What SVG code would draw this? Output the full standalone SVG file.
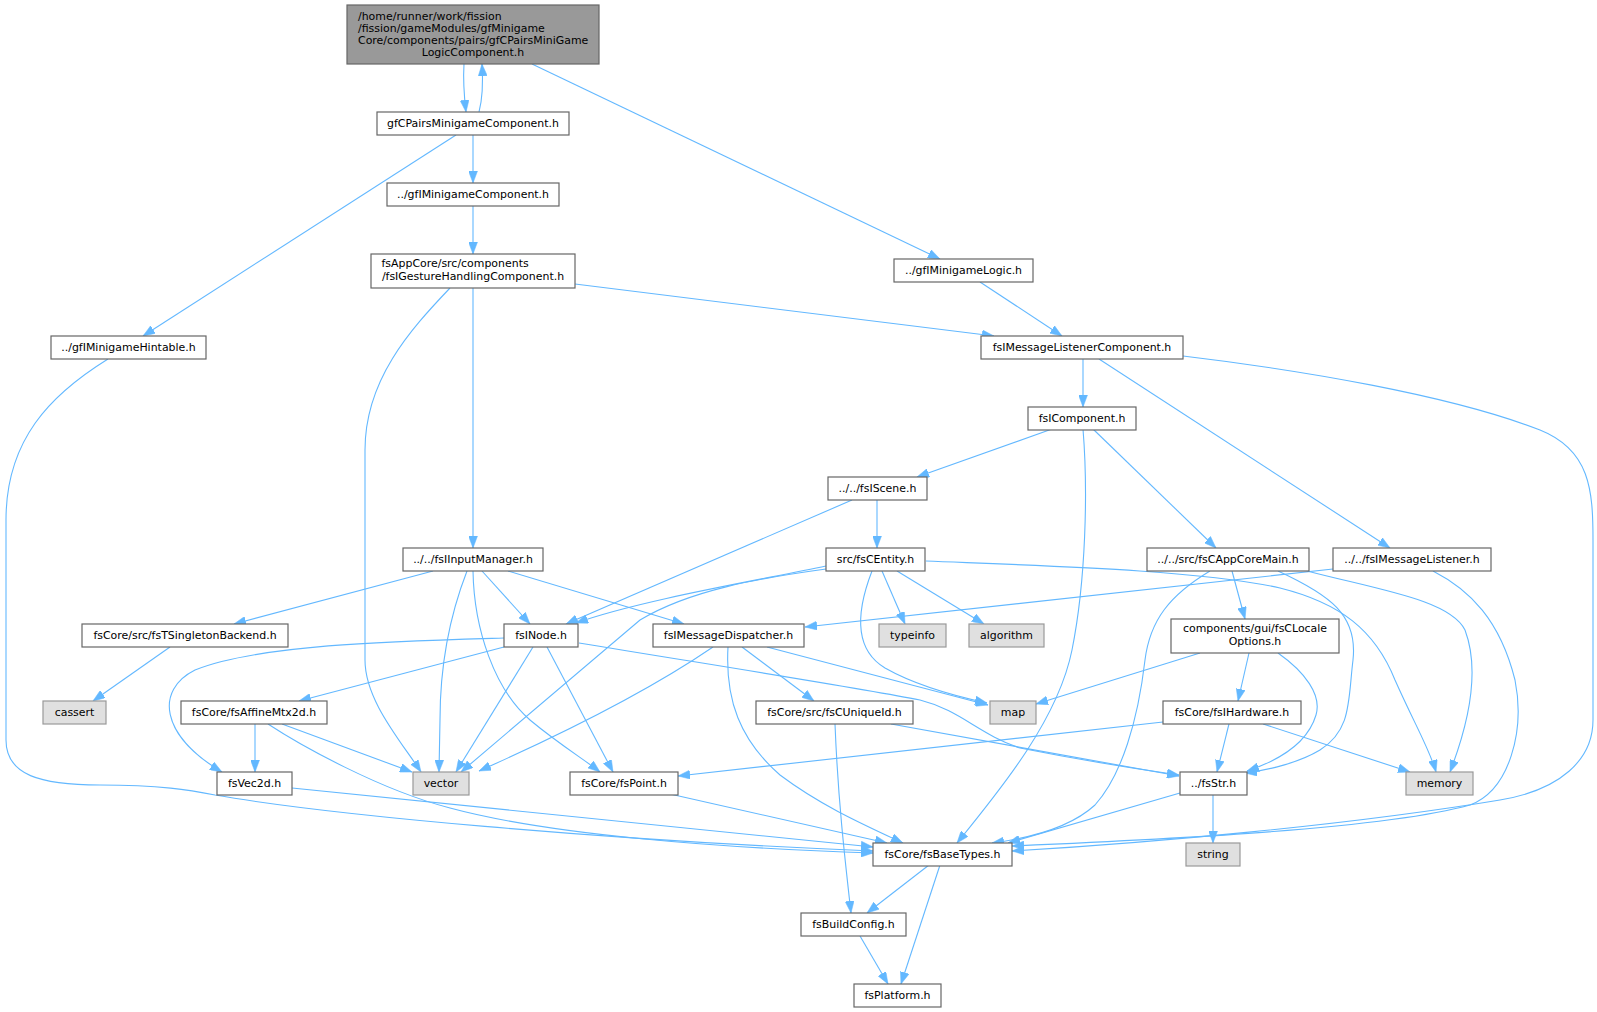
<svg xmlns="http://www.w3.org/2000/svg" width="1597" height="1012" viewBox="0 0 1597 1012">
<defs>
<style>
.nd rect{fill:#ffffff;stroke:#666666;stroke-width:1.2}
.gr rect{fill:#e0e0e0;stroke:#999999;stroke-width:1.2}
.mn rect{fill:#999999;stroke:#666666;stroke-width:1.2}
text{font-family:"DejaVu Sans","Liberation Sans",sans-serif;font-size:10.95px;fill:#000000;text-anchor:middle}
text.l{text-anchor:start}
#edges path{fill:none;stroke:#63b8ff;stroke-width:1.1;marker-end:url(#ah)}
</style>
<marker id="ah" markerUnits="userSpaceOnUse" markerWidth="12" markerHeight="9" refX="12" refY="4.5" orient="auto" viewBox="0 0 12 9">
<path d="M0,0 L12,4.5 L0,9 z" fill="#63b8ff" stroke="#63b8ff" stroke-width="0.5"/>
</marker>
</defs>
<rect width="1597" height="1012" fill="#ffffff"/>
<g id="edges">
<path d="M464,64 C463,80 464,95 466,112"/>
<path d="M479,112 C483,97 483,80 482,64"/>
<path d="M532,64 L940,259"/>
<path d="M473,135 L473,183"/>
<path d="M456,135 L143,336"/>
<path d="M473,206 L473,254"/>
<path d="M575,284 L994,336"/>
<path d="M473,288 L473,548"/>
<path d="M450,288 C410,330 365,380 365,450 L365,660 C365,700 400,740 421,772"/>
<path d="M108,359 C50,395 6,440 6,520 L6,740 C6,775 40,785 100,785 C160,785 190,790 215,795 C330,815 600,840 873,851"/>
<path d="M980,282 L1062,336"/>
<path d="M1083,359 L1083,407"/>
<path d="M1099,359 L1390,548"/>
<path d="M1183,356 C1300,370 1450,395 1540,430 C1590,450 1593,490 1593,540 L1593,720 C1593,760 1560,790 1500,800 C1350,825 1150,843 1012,851"/>
<path d="M1052,429 L917,477"/>
<path d="M1093,429 L1216,548"/>
<path d="M1083,429 C1088,490 1086,580 1072,650 C1058,720 1000,790 957,843"/>
<path d="M877,500 L877,548"/>
<path d="M852,500 L566,624"/>
<path d="M433,571 L234,624"/>
<path d="M467,571 C448,620 440,670 440,720 L439,772"/>
<path d="M473,571 C474,630 495,690 530,720 C560,745 585,760 600,772"/>
<path d="M482,571 L530,624"/>
<path d="M508,571 L684,624"/>
<path d="M826,566 C760,580 640,600 576,623"/>
<path d="M826,569 C760,578 690,590 640,620 L461,772"/>
<path d="M872,571 C855,615 855,650 885,668 C915,685 950,695 987,703"/>
<path d="M882,571 L905,624"/>
<path d="M897,571 L984,624"/>
<path d="M926,561 C1050,566 1200,570 1280,588 C1340,603 1375,630 1395,680 C1415,725 1430,750 1436,772"/>
<path d="M1232,571 L1245,619"/>
<path d="M1210,571 C1170,595 1150,620 1145,660 C1138,720 1122,775 1095,805 C1070,828 1030,838 992,843"/>
<path d="M1278,571 C1330,595 1358,615 1353,660 C1348,700 1352,730 1320,750 C1300,762 1270,770 1245,773"/>
<path d="M1307,571 C1380,590 1450,600 1465,630 C1480,670 1470,720 1450,772"/>
<path d="M1333,569 L805,627"/>
<path d="M1433,571 C1470,590 1500,620 1515,680 C1525,730 1510,790 1470,805 C1380,830 1150,840 1012,846"/>
<path d="M170,647 L93,701"/>
<path d="M504,638 C400,641 260,644 195,670 C155,690 160,735 222,772"/>
<path d="M504,647 L299,701"/>
<path d="M533,647 L456,772"/>
<path d="M547,647 L613,772"/>
<path d="M579,643 C700,663 860,688 920,700 C960,710 980,735 1020,748 C1080,760 1130,768 1179,775"/>
<path d="M713,647 C650,690 560,735 479,771"/>
<path d="M728,647 C725,700 740,740 780,775 C820,805 860,823 903,843"/>
<path d="M742,647 L814,701"/>
<path d="M767,647 L988,705"/>
<path d="M1200,653 L1036,704"/>
<path d="M1249,653 L1238,701"/>
<path d="M1278,653 C1305,672 1322,695 1316,715 C1308,742 1280,760 1247,771"/>
<path d="M255,724 L255,772"/>
<path d="M282,724 L412,772"/>
<path d="M268,724 C300,745 380,790 450,808 C550,835 720,848 873,853"/>
<path d="M835,724 C838,800 845,860 851,913"/>
<path d="M891,724 L1179,776"/>
<path d="M1163,722 L678,776"/>
<path d="M1229,724 L1217,772"/>
<path d="M1263,724 L1410,772"/>
<path d="M292,788 L873,847"/>
<path d="M670,794 L887,843"/>
<path d="M1180,793 L1008,843"/>
<path d="M1213,795 L1213,843"/>
<path d="M929,865 L867,913"/>
<path d="M940,865 L901,984"/>
<path d="M860,936 L888,984"/>
</g>
<g id="n_main" class="mn"><rect x="347" y="5" width="252" height="59"/>
<text class="l" x="358" y="19.5">/home/runner/work/fission</text>
<text class="l" x="358" y="31.8">/fission/gameModules/gfMinigame</text>
<text class="l" x="358" y="44.1">Core/components/pairs/gfCPairsMiniGame</text>
<text x="473" y="56.4">LogicComponent.h</text></g>
<g id="n_gfCPairs" class="nd"><rect x="377" y="112" width="192" height="23"/><text x="473" y="127">gfCPairsMinigameComponent.h</text></g>
<g id="n_gfIMinComp" class="nd"><rect x="387" y="183" width="172" height="23"/><text x="473" y="198">../gfIMinigameComponent.h</text></g>
<g id="n_fsIGesture" class="nd"><rect x="371" y="254" width="204" height="34"/>
<text class="l" x="381.5" y="267.3">fsAppCore/src/components</text>
<text x="473" y="279.7">/fsIGestureHandlingComponent.h</text></g>
<g id="n_gfIMinLogic" class="nd"><rect x="894" y="259" width="139" height="23"/><text x="963.5" y="274">../gfIMinigameLogic.h</text></g>
<g id="n_hintable" class="nd"><rect x="51" y="336" width="155" height="23"/><text x="128.5" y="351">../gfIMinigameHintable.h</text></g>
<g id="n_fsIMLC" class="nd"><rect x="981" y="336" width="202" height="23"/><text x="1082" y="351">fsIMessageListenerComponent.h</text></g>
<g id="n_fsIComponent" class="nd"><rect x="1028" y="407" width="108" height="23"/><text x="1082" y="422">fsIComponent.h</text></g>
<g id="n_fsIScene" class="nd"><rect x="828" y="477" width="99" height="23"/><text x="877.5" y="492">../../fsIScene.h</text></g>
<g id="n_fsIInputManager" class="nd"><rect x="403" y="548" width="140" height="23"/><text x="473" y="563">../../fsIInputManager.h</text></g>
<g id="n_fsCEntity" class="nd"><rect x="826" y="548" width="99" height="23"/><text x="875.5" y="563">src/fsCEntity.h</text></g>
<g id="n_fsCAppCoreMain" class="nd"><rect x="1147" y="548" width="162" height="23"/><text x="1228" y="563">../../src/fsCAppCoreMain.h</text></g>
<g id="n_fsIMessageListener" class="nd"><rect x="1333" y="548" width="158" height="23"/><text x="1412" y="563">../../fsIMessageListener.h</text></g>
<g id="n_fsTSingleton" class="nd"><rect x="82" y="624" width="206" height="23"/><text x="185" y="639">fsCore/src/fsTSingletonBackend.h</text></g>
<g id="n_fsINode" class="nd"><rect x="504" y="624" width="74" height="23"/><text x="541" y="639">fsINode.h</text></g>
<g id="n_fsIMessageDispatcher" class="nd"><rect x="653" y="624" width="151" height="23"/><text x="728.5" y="639">fsIMessageDispatcher.h</text></g>
<g id="n_typeinfo" class="gr"><rect x="879" y="624" width="67" height="23"/><text x="912.5" y="639">typeinfo</text></g>
<g id="n_algorithm" class="gr"><rect x="969" y="624" width="75" height="23"/><text x="1006.5" y="639">algorithm</text></g>
<g id="n_fsCLocaleOptions" class="nd"><rect x="1171" y="619" width="168" height="34"/>
<text x="1255" y="632.3">components/gui/fsCLocale</text>
<text x="1255" y="644.5">Options.h</text></g>
<g id="n_cassert" class="gr"><rect x="43" y="701" width="63" height="23"/><text x="74.5" y="716">cassert</text></g>
<g id="n_fsAffine" class="nd"><rect x="181" y="701" width="146" height="23"/><text x="254" y="716">fsCore/fsAffineMtx2d.h</text></g>
<g id="n_fsCUniqueId" class="nd"><rect x="756" y="701" width="157" height="23"/><text x="834.5" y="716">fsCore/src/fsCUniqueId.h</text></g>
<g id="n_map" class="gr"><rect x="990" y="701" width="46" height="23"/><text x="1013" y="716">map</text></g>
<g id="n_fsIHardware" class="nd"><rect x="1163" y="701" width="138" height="23"/><text x="1232" y="716">fsCore/fsIHardware.h</text></g>
<g id="n_fsVec2d" class="nd"><rect x="217" y="772" width="75" height="23"/><text x="254.5" y="787">fsVec2d.h</text></g>
<g id="n_vector" class="gr"><rect x="413" y="772" width="56" height="23"/><text x="441" y="787">vector</text></g>
<g id="n_fsPoint" class="nd"><rect x="570" y="772" width="108" height="23"/><text x="624" y="787">fsCore/fsPoint.h</text></g>
<g id="n_fsStr" class="nd"><rect x="1180" y="772" width="67" height="23"/><text x="1213.5" y="787">../fsStr.h</text></g>
<g id="n_memory" class="gr"><rect x="1406" y="772" width="67" height="23"/><text x="1439.5" y="787">memory</text></g>
<g id="n_fsBaseTypes" class="nd"><rect x="873" y="843" width="139" height="23"/><text x="942.5" y="858">fsCore/fsBaseTypes.h</text></g>
<g id="n_string" class="gr"><rect x="1186" y="843" width="54" height="23"/><text x="1213" y="858">string</text></g>
<g id="n_fsBuildConfig" class="nd"><rect x="801" y="913" width="105" height="23"/><text x="853.5" y="928">fsBuildConfig.h</text></g>
<g id="n_fsPlatform" class="nd"><rect x="854" y="984" width="87" height="23"/><text x="897.5" y="999">fsPlatform.h</text></g>
</svg>
